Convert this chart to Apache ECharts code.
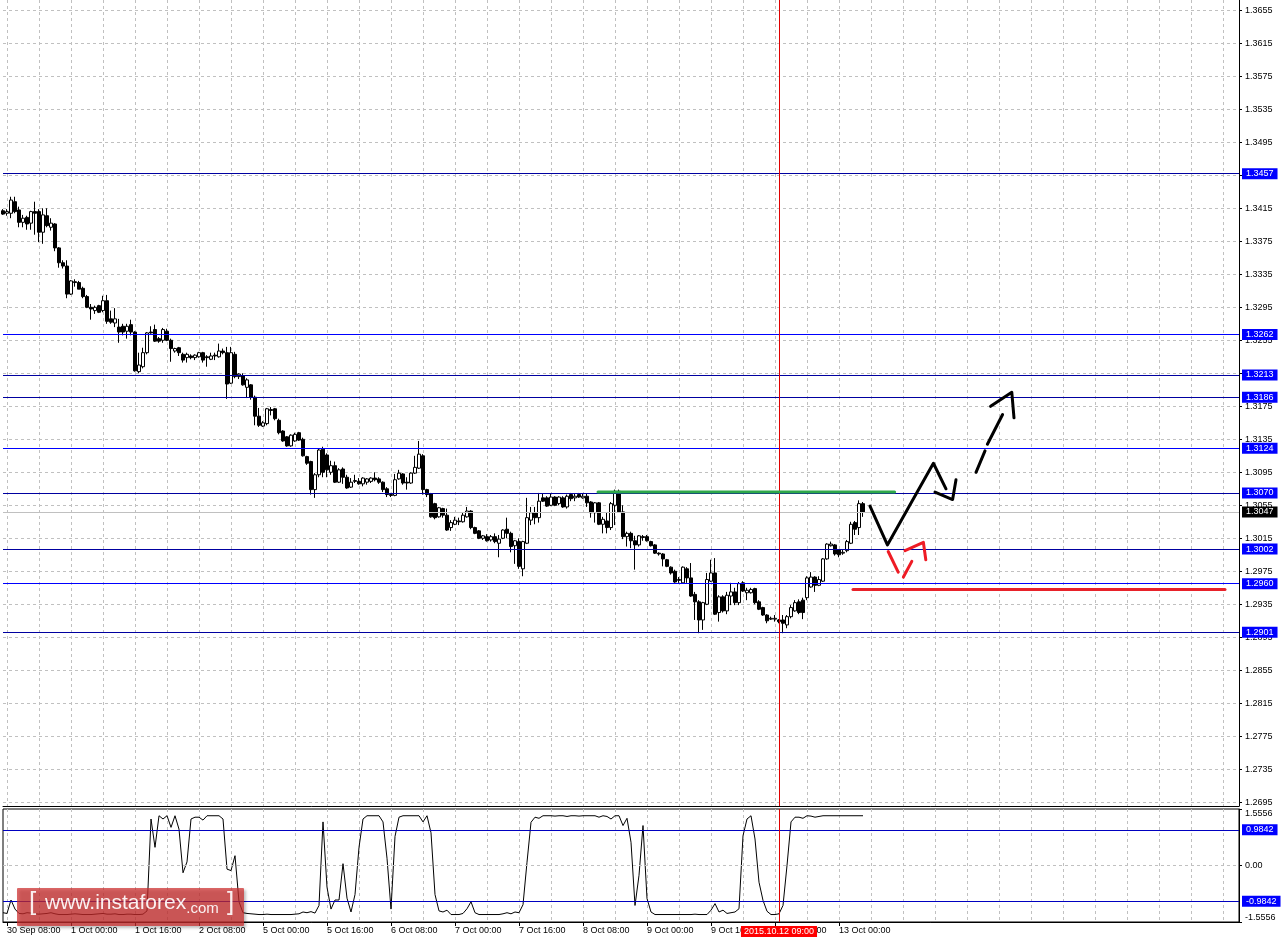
<!DOCTYPE html>
<html><head><meta charset="utf-8">
<script src="https://cdn.jsdelivr.net/npm/echarts@6/dist/echarts.min.js"></script>
<style>html,body{margin:0;padding:0;background:#fff;overflow:hidden}#c{width:1282px;height:940px}</style>
</head><body><div id="c"></div>
<script>
// ---------- DATA (hourly bars) ----------
const open = [
1.3412,1.3409,1.3409,1.3423,1.3413,1.3398,1.3404,1.3397,1.3411,1.3411,
1.3386,1.3406,1.3392,1.3396,1.3367,1.3349,1.3345,1.3311,1.3326,1.3325,
1.3318,1.3308,1.3295,1.3291,1.3297,1.3291,1.3303,1.3281,1.3276,1.3271,
1.3272,1.3266,1.3274,1.3265,1.3217,1.3223,1.3240,1.3265,1.3268,1.3257,
1.3255,1.3266,1.3255,1.3242,1.3246,1.3238,1.3234,1.3236,1.3234,1.3235,
1.3240,1.3235,1.3232,1.3237,1.3235,1.3242,1.3240,1.3203,1.3238,1.3211,
1.3212,1.3198,1.3201,1.3186,1.3163,1.3151,1.3154,1.3171,1.3172,1.3158,
1.3145,1.3138,1.3127,1.3133,1.3143,1.3135,1.3114,1.3108,1.3074,1.3092,
1.3123,1.3116,1.3095,1.3103,1.3083,1.3099,1.3089,1.3077,1.3084,1.3084,
1.3081,1.3083,1.3084,1.3088,1.3087,1.3083,1.3075,1.3068,1.3067,1.3087,
1.3093,1.3083,1.3082,1.3094,1.3100,1.3115,1.3074,1.3069,1.3057,1.3041,
1.3051,1.3043,1.3028,1.3032,1.3036,1.3035,1.3041,1.3048,1.3028,1.3024,
1.3015,1.3017,1.3013,1.3017,1.3009,1.3015,1.3026,1.3021,1.3006,1.3011,
1.2978,1.3009,1.3037,1.3046,1.3040,1.3064,1.3064,1.3055,1.3065,1.3057,
1.3064,1.3053,1.3068,1.3064,1.3068,1.3064,1.3066,1.3059,1.3046,1.3058,
1.3032,1.3036,1.3028,1.3055,1.3072,1.3047,1.3017,1.3021,1.3012,1.3007,
1.3017,1.3017,1.3011,1.3007,1.2997,1.2996,1.2989,1.2980,1.2975,1.2964,
1.2961,1.2978,1.2967,1.2947,1.2938,1.2916,1.2935,1.2963,1.2973,1.2925,
1.2944,1.2927,1.2945,1.2950,1.2937,1.2961,1.2949,1.2949,1.2954,1.2938,
1.2931,1.2922,1.2917,1.2917,1.2916,1.2916,1.2910,1.2920,1.2927,1.2938,
1.2940,1.2943,1.2956,1.2968,1.2958,1.2963,1.2990,1.3006,1.3007,1.3001,
1.2997,1.3000,1.3009,1.3034,1.3028,1.3057];
const high = [
1.3414,1.3414,1.3429,1.3429,1.3417,1.3407,1.3406,1.3412,1.3423,1.3414,
1.3415,1.3415,1.3403,1.3397,1.3368,1.3352,1.3352,1.3328,1.3329,1.3327,
1.3320,1.3310,1.3299,1.3297,1.3298,1.3309,1.3310,1.3291,1.3294,1.3281,
1.3275,1.3275,1.3280,1.3266,1.3240,1.3246,1.3265,1.3272,1.3274,1.3259,
1.3270,1.3269,1.3257,1.3246,1.3247,1.3240,1.3240,1.3238,1.3238,1.3241,
1.3241,1.3237,1.3240,1.3240,1.3251,1.3245,1.3247,1.3247,1.3241,1.3215,
1.3215,1.3209,1.3202,1.3188,1.3173,1.3157,1.3173,1.3174,1.3173,1.3160,
1.3146,1.3139,1.3141,1.3143,1.3144,1.3137,1.3115,1.3109,1.3094,1.3124,
1.3126,1.3118,1.3109,1.3108,1.3100,1.3101,1.3092,1.3088,1.3092,1.3088,
1.3089,1.3088,1.3089,1.3095,1.3089,1.3084,1.3077,1.3070,1.3093,1.3098,
1.3094,1.3089,1.3095,1.3115,1.3133,1.3117,1.3075,1.3070,1.3058,1.3053,
1.3052,1.3051,1.3037,1.3041,1.3040,1.3046,1.3053,1.3049,1.3029,1.3025,
1.3019,1.3020,1.3019,1.3021,1.3019,1.3026,1.3040,1.3023,1.3013,1.3015,
1.3012,1.3064,1.3053,1.3053,1.3070,1.3069,1.3066,1.3069,1.3066,1.3066,
1.3066,1.3068,1.3070,1.3069,1.3070,1.3069,1.3069,1.3060,1.3059,1.3059,
1.3041,1.3046,1.3059,1.3074,1.3074,1.3055,1.3023,1.3023,1.3018,1.3019,
1.3019,1.3019,1.3012,1.3008,1.2998,1.2997,1.2990,1.2981,1.2977,1.2968,
1.2981,1.2980,1.2985,1.2950,1.2940,1.2938,1.2973,1.2989,1.2991,1.2946,
1.2946,1.2950,1.2961,1.2955,1.2962,1.2963,1.2955,1.2955,1.2955,1.2940,
1.2932,1.2923,1.2920,1.2922,1.2917,1.2922,1.2922,1.2934,1.2940,1.2941,
1.2943,1.2969,1.2974,1.2969,1.2969,1.2991,1.3009,1.3011,1.3008,1.3002,
1.3001,1.3013,1.3035,1.3036,1.3061,1.3059];
const low = [
1.3407,1.3406,1.3403,1.3409,1.3392,1.3392,1.3389,1.3389,1.3383,1.3374,
1.3372,1.3392,1.3388,1.3363,1.3343,1.3342,1.3306,1.3310,1.3320,1.3317,
1.3306,1.3294,1.3280,1.3287,1.3288,1.3289,1.3275,1.3275,1.3271,1.3252,
1.3261,1.3257,1.3261,1.3217,1.3215,1.3221,1.3238,1.3263,1.3253,1.3252,
1.3252,1.3254,1.3229,1.3240,1.3236,1.3228,1.3228,1.3232,1.3231,1.3234,
1.3228,1.3223,1.3231,1.3231,1.3234,1.3238,1.3184,1.3202,1.3209,1.3208,
1.3200,1.3185,1.3183,1.3152,1.3150,1.3150,1.3152,1.3164,1.3158,1.3141,
1.3132,1.3126,1.3126,1.3132,1.3133,1.3114,1.3104,1.3068,1.3064,1.3089,
1.3089,1.3089,1.3092,1.3082,1.3082,1.3081,1.3075,1.3076,1.3082,1.3080,
1.3078,1.3080,1.3082,1.3084,1.3081,1.3071,1.3065,1.3065,1.3066,1.3086,
1.3080,1.3074,1.3081,1.3093,1.3099,1.3068,1.3065,1.3040,1.3038,1.3040,
1.3040,1.3024,1.3024,1.3031,1.3031,1.3034,1.3040,1.3026,1.3020,1.3014,
1.3013,1.3011,1.3011,1.3009,1.2992,1.3014,1.3015,1.2998,1.2984,1.2978,
1.2969,1.3008,1.3031,1.3032,1.3034,1.3059,1.3053,1.3054,1.3054,1.3055,
1.3052,1.3051,1.3060,1.3060,1.3064,1.3063,1.3053,1.3040,1.3034,1.3031,
1.3021,1.3021,1.3025,1.3031,1.3046,1.3014,1.3005,1.3003,1.2977,1.3005,
1.3012,1.3011,1.3005,1.2996,1.2994,1.2981,1.2980,1.2971,1.2961,1.2961,
1.2960,1.2961,1.2944,1.2916,1.2900,1.2904,1.2934,1.2962,1.2922,1.2914,
1.2925,1.2923,1.2934,1.2934,1.2934,1.2950,1.2940,1.2948,1.2935,1.2928,
1.2921,1.2912,1.2916,1.2914,1.2912,1.2900,1.2906,1.2918,1.2926,1.2923,
1.2917,1.2940,1.2955,1.2950,1.2957,1.2962,1.2989,1.3005,1.2994,1.2992,
1.2995,1.2998,1.3008,1.3019,1.3019,1.3041];
const close = [
1.3408,1.3411,1.3425,1.3411,1.3398,1.3403,1.3396,1.3411,1.3409,1.3386,
1.3407,1.3394,1.3397,1.3367,1.3349,1.3345,1.3311,1.3327,1.3325,1.3317,
1.3308,1.3295,1.3293,1.3295,1.3289,1.3303,1.3278,1.3277,1.3281,1.3265,
1.3265,1.3272,1.3265,1.3218,1.3225,1.3240,1.3264,1.3264,1.3254,1.3254,
1.3268,1.3255,1.3245,1.3245,1.3240,1.3231,1.3238,1.3234,1.3237,1.3240,
1.3231,1.3234,1.3236,1.3236,1.3242,1.3240,1.3202,1.3240,1.3211,1.3214,
1.3201,1.3207,1.3186,1.3163,1.3152,1.3155,1.3172,1.3170,1.3160,1.3143,
1.3133,1.3127,1.3140,1.3141,1.3134,1.3115,1.3106,1.3074,1.3092,1.3122,
1.3095,1.3098,1.3103,1.3083,1.3098,1.3089,1.3076,1.3083,1.3085,1.3081,
1.3088,1.3087,1.3088,1.3086,1.3083,1.3074,1.3068,1.3067,1.3086,1.3094,
1.3082,1.3082,1.3094,1.3101,1.3117,1.3074,1.3068,1.3041,1.3040,1.3052,
1.3043,1.3025,1.3034,1.3037,1.3035,1.3043,1.3048,1.3028,1.3021,1.3015,
1.3018,1.3012,1.3017,1.3011,1.3014,1.3025,1.3021,1.3005,1.3012,1.2981,
1.3011,1.3040,1.3046,1.3040,1.3060,1.3060,1.3054,1.3065,1.3055,1.3065,
1.3053,1.3066,1.3063,1.3066,1.3065,1.3066,1.3058,1.3046,1.3058,1.3032,
1.3038,1.3028,1.3057,1.3072,1.3047,1.3017,1.3021,1.3012,1.3007,1.3018,
1.3016,1.3012,1.3006,1.2997,1.2996,1.2990,1.2981,1.2973,1.2962,1.2965,
1.2980,1.2967,1.2945,1.2938,1.2916,1.2937,1.2965,1.2973,1.2923,1.2944,
1.2927,1.2946,1.2950,1.2937,1.2960,1.2951,1.2952,1.2953,1.2937,1.2929,
1.2922,1.2915,1.2918,1.2918,1.2914,1.2912,1.2920,1.2931,1.2937,1.2925,
1.2925,1.2967,1.2968,1.2958,1.2965,1.2990,1.3008,1.3008,1.2996,1.2995,
1.2998,1.3011,1.3032,1.3026,1.3057,1.3047];
const oscillator = [
-1.30,-1.32,-0.95,-1.20,-1.32,-1.33,-1.30,-1.31,-1.33,-1.34,
-1.33,-1.32,-1.30,-1.33,-1.35,-1.35,-1.35,-1.34,-1.33,-1.34,
-1.35,-1.35,-1.35,-1.34,-1.33,-1.32,-1.34,-1.34,-1.33,-1.35,
-1.35,-1.34,-1.34,-1.35,-1.35,-1.34,-1.25,1.28,0.50,1.37,
1.28,1.37,1.05,1.37,1.00,-0.20,0.10,1.28,1.33,1.33,
1.25,1.37,1.37,1.37,1.37,1.28,-0.10,-0.14,0.27,-1.00,
-1.30,-1.32,-1.33,-1.34,-1.35,-1.35,-1.34,-1.35,-1.35,-1.35,
-1.35,-1.35,-1.35,-1.34,-1.33,-1.28,-1.30,-1.27,-1.31,-1.10,
1.20,-0.60,-1.20,-0.95,-0.95,0.05,-0.90,-1.28,-0.80,0.50,
1.28,1.37,1.37,1.37,1.37,1.20,0.20,-1.20,0.80,1.33,
1.37,1.37,1.37,1.37,1.37,1.20,1.37,0.90,-0.80,-1.25,
-1.28,-1.23,-1.35,-1.35,-1.35,-1.32,-1.19,-1.00,-1.30,-1.35,
-1.35,-1.35,-1.35,-1.35,-1.35,-1.33,-1.30,-1.33,-1.28,-1.30,
-1.08,0.09,1.19,1.33,1.30,1.37,1.37,1.37,1.36,1.37,
1.37,1.35,1.37,1.37,1.36,1.37,1.37,1.37,1.37,1.33,
1.37,1.35,1.28,1.37,1.37,1.10,1.30,0.64,-1.10,-0.27,
1.10,-0.91,-1.28,-1.35,-1.35,-1.35,-1.35,-1.35,-1.35,-1.35,
-1.35,-1.35,-1.35,-1.34,-1.35,-1.35,-1.35,-1.23,-1.05,-1.28,
-1.23,-1.32,-1.30,-1.28,-1.19,0.82,1.28,1.37,0.73,-0.46,
-0.96,-1.26,-1.35,-1.35,-1.33,-1.10,0.00,1.20,1.33,1.33,
1.30,1.37,1.36,1.33,1.35,1.37,1.37,1.37,1.37,1.37,
1.37,1.37,1.37,1.37,1.37,1.37];

const priceTicks = [1.2695,1.2735,1.2775,1.2815,1.2855,1.2895,1.2935,1.2975,1.3015,1.3055,1.3095,1.3135,1.3175,1.3215,1.3255,1.3295,1.3335,1.3375,1.3415,1.3455,1.3495,1.3535,1.3575,1.3615,1.3655];
const oscTicks = [-1.5556, 0, 1.5556];
const oscLevels = [0.9842, -0.9842];
const levels = [1.3457,1.3262,1.3213,1.3186,1.3124,1.3070,1.3002,1.2960,1.2901];
const timeTicks = ['30 Sep 08:00','1 Oct 00:00','1 Oct 16:00','2 Oct 08:00','5 Oct 00:00','5 Oct 16:00','6 Oct 08:00','7 Oct 00:00','7 Oct 16:00','8 Oct 08:00','9 Oct 00:00','9 Oct 16:00','12 Oct 08:00','13 Oct 00:00'];
const crossIndex = 194;
const crossLabel = '2015.10.12 09:00';
// hand-drawn forecast strokes: [bar index, price]
const blackStrokes = [
  [[216.75,1.3054],[221.1,1.3007],[232.6,1.3106],[235.75,1.3075]],
  [[233,1.3071],[237.4,1.3062],[238.25,1.3086]],
  [[243.25,1.3095],[245.5,1.3121]],
  [[246.1,1.3129],[249.9,1.3165]],
  [[246.9,1.3175],[252.2,1.3192],[252.75,1.3161]]
];
const redStrokes = [
  [[221.3,1.2999],[223.8,1.2974]],
  [[225.1,1.2968],[227.2,1.2987]],
  [[225.5,1.3000],[230.1,1.3010],[230.7,1.2989]]
];
const redLevel = [[212.5,1.2953],[305.5,1.2953]];
const greenLevel = [[148.75,1.3071],[222.9,1.3071]];

// ---------- time categories (hourly, weekends skipped) ----------
const SLOTS = 310;
const MON = ['Jan','Feb','Mar','Apr','May','Jun','Jul','Aug','Sep','Oct','Nov','Dec'];
const times = [];
let t = Date.UTC(2015, 8, 30, 7);
while (times.length < SLOTS) {
  const d = new Date(t); const wd = d.getUTCDay();
  if (wd !== 0 && wd !== 6) times.push(d.getUTCDate() + ' ' + MON[d.getUTCMonth()] + ' ' + String(d.getUTCHours()).padStart(2, '0') + ':00');
  t += 3600000;
}
const candles = open.map((o, i) => [o, close[i], low[i], high[i]]);
const bid = close[close.length - 1];

// ---------- styles ----------
const FONT = 'Liberation Sans';
const BRIGHT = [1.3262, 1.3124, 1.2960];
const gridDash = { color: '#c0c0c0', type: [3, 3], width: 1 };
const vGrid = (idx) => (idx - 1) % 8 === 0;
const isTick = (idx, val) => timeTicks.indexOf(val) >= 0;
const boxLabel = (bg, txt) => ({ show: true, position: 'end', distance: 3, formatter: txt,
  backgroundColor: bg, color: '#fff', fontSize: 9, fontFamily: FONT, padding: [1, 4, 0, 4], lineHeight: 10 });

const levelLines = levels.map(v => ({ yAxis: v,
  lineStyle: { color: BRIGHT.indexOf(v) >= 0 ? '#0000ff' : '#0000a0', width: 1, type: 'solid' },
  label: boxLabel('#0000ff', v.toFixed(4)) }));
levelLines.push({ yAxis: bid, lineStyle: { color: '#c0c0c0', width: 1, type: 'solid' }, label: boxLabel('#000', bid.toFixed(4)) });
levelLines.push({ xAxis: times[crossIndex], lineStyle: { color: '#e00000', width: 1, type: 'solid' }, label: { show: false } });

const strokeSeries = (arr, color, w) => arr.map(s => ({ type: 'line', xAxisIndex: 2, yAxisIndex: 0, data: s,
  symbol: 'none', silent: true, z: 6, animation: false,
  lineStyle: { color: color, width: w, cap: 'round', join: 'round' } }));

const option = {
  animation: false,
  backgroundColor: '#fff',
  textStyle: { fontFamily: FONT },
  grid: [
    { left: 3, top: 0, width: 1236, height: 806, show: false },
    { left: 3, top: 809, width: 1236, height: 113, show: true, borderColor: '#000', borderWidth: 1, backgroundColor: 'transparent' }
  ],
  xAxis: [
    { gridIndex: 0, type: 'category', data: times, boundaryGap: false,
      axisLine: { show: true, onZero: false, lineStyle: { color: '#000' } },
      axisTick: { show: false }, axisLabel: { show: false },
      splitLine: { show: true, interval: vGrid, lineStyle: gridDash } },
    { gridIndex: 1, type: 'category', data: times, boundaryGap: false, position: 'bottom',
      axisLine: { show: true, onZero: false, lineStyle: { color: '#000' } },
      axisTick: { show: true, interval: isTick, length: 4, lineStyle: { color: '#000' } },
      axisLabel: { show: true, interval: isTick, align: 'left', margin: 4, fontSize: 9, color: '#000', fontFamily: FONT },
      splitLine: { show: true, interval: vGrid, lineStyle: gridDash } },
    { gridIndex: 0, type: 'value', min: 0, max: SLOTS - 1, show: false }
  ],
  yAxis: [
    { gridIndex: 0, type: 'value', position: 'right', min: 1.26905, max: 1.36675,
      axisLine: { show: true, onZero: false, lineStyle: { color: '#000' } },
      axisTick: { show: true, customValues: priceTicks, length: 3, lineStyle: { color: '#000' } },
      axisLabel: { show: true, customValues: priceTicks, formatter: v => v.toFixed(4), margin: 6, fontSize: 9, color: '#000', fontFamily: FONT },
      splitLine: { show: true, lineStyle: gridDash } },
    { gridIndex: 1, type: 'value', position: 'right', min: -1.5556, max: 1.5556,
      axisLine: { show: true, onZero: false, lineStyle: { color: '#000' } },
      axisTick: { show: true, customValues: oscTicks, length: 3, lineStyle: { color: '#000' } },
      axisLabel: { show: true, customValues: oscTicks, formatter: v => v === 0 ? '0.00' : v.toFixed(4),
        margin: 6, fontSize: 9, color: '#000', fontFamily: FONT,
        verticalAlignMaxLabel: 'top', verticalAlignMinLabel: 'bottom' },
      splitLine: { show: false } }
  ],
  series: [
    { type: 'candlestick', xAxisIndex: 0, yAxisIndex: 0, data: candles, barWidth: 3,
      itemStyle: { color: '#ffffff', color0: '#000000', borderColor: '#000000', borderColor0: '#000000', borderWidth: 1 },
      markLine: { silent: true, precision: 4, symbol: ['none', 'none'], animation: false, data: levelLines } },
    { type: 'line', xAxisIndex: 1, yAxisIndex: 1, data: oscillator, symbol: 'none', silent: true,
      lineStyle: { color: '#000', width: 1 },
      markLine: { silent: true, precision: 4, symbol: ['none', 'none'], animation: false, data: [
        ...oscLevels.map(v => ({ yAxis: v, lineStyle: { color: '#0000c0', width: 1, type: 'solid' }, label: boxLabel('#0000ff', v.toFixed(4)) })),
        { yAxis: 0, lineStyle: gridDash, label: { show: false } },
        { xAxis: times[crossIndex], lineStyle: { color: '#e00000', width: 1, type: 'solid' },
          label: { show: true, position: 'start', distance: 4, formatter: crossLabel, backgroundColor: '#ff0000', color: '#fff',
            fontSize: 9, fontFamily: FONT, padding: [1, 3, 0, 3], lineHeight: 10 } }
      ] } },
    ...strokeSeries([greenLevel], '#2ea84a', 3),
    ...strokeSeries([redLevel], '#e8222a', 3),
    ...strokeSeries(blackStrokes, '#000000', 3),
    ...strokeSeries(redStrokes, '#ee1c25', 3)
  ],
  graphic: [
    { type: 'rect', left: 17, top: 888, z: 100, silent: true,
      shape: { width: 227, height: 38, r: 1 },
      style: { fill: 'rgba(205,45,45,0.72)', shadowBlur: 3, shadowOffsetX: 2, shadowOffsetY: 2, shadowColor: 'rgba(0,0,0,0.35)' } },
    { type: 'text', left: 29, top: 890, z: 101, silent: true,
      style: { text: '[', fill: 'rgba(255,255,255,0.9)', font: '26px "Liberation Sans"' } },
    { type: 'text', left: 45, top: 893, z: 101, silent: true,
      style: { text: '{a|www.instaforex}{b|.com}', fill: 'rgba(255,255,255,0.92)',
        rich: { a: { fontSize: 21, fontFamily: FONT, fill: 'rgba(255,255,255,0.92)', lineHeight: 26 },
                b: { fontSize: 15, fontFamily: FONT, fill: 'rgba(255,255,255,0.92)', lineHeight: 26, verticalAlign: 'bottom' } } } },
    { type: 'text', left: 227, top: 890, z: 101, silent: true,
      style: { text: ']', fill: 'rgba(255,255,255,0.9)', font: '26px "Liberation Sans"' } }
  ]
};
const chart = echarts.init(document.getElementById('c'), null, { renderer: 'canvas' });
chart.setOption(option);
</script></body></html>
